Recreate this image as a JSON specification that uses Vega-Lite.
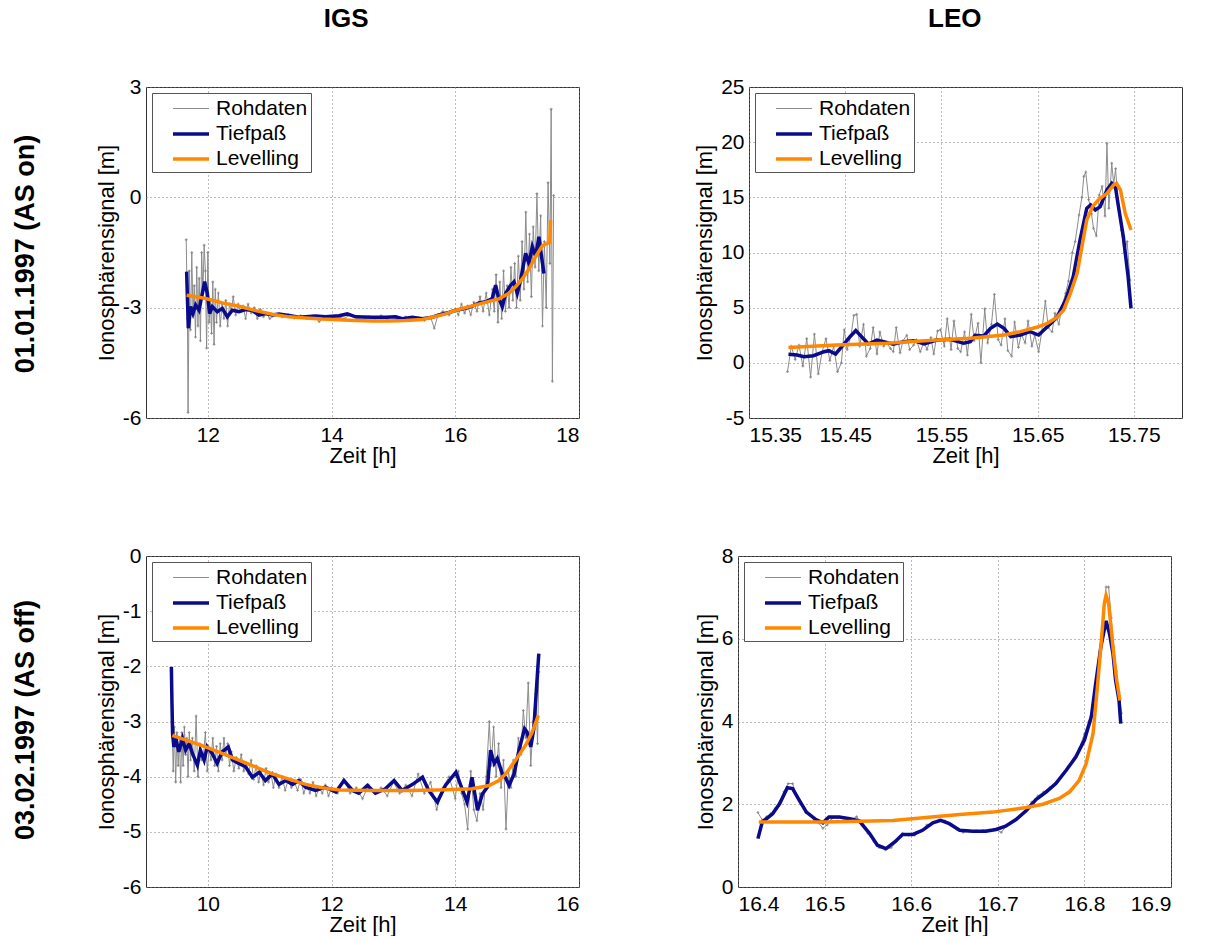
{
"$schema": "https://vega.github.io/schema/vega-lite/v6.json",
"background": "white",
"padding": {"left": 11, "top": 5, "right": 0, "bottom": 0},
"config": {
 "font": "Liberation Sans",
 "view": {"stroke": "#333", "strokeWidth": 1},
 "axis": {"labelFont": "Liberation Sans", "labelFontSize": 21, "labelColor": "#000", "titleFont": "Liberation Sans", "titleFontSize": 22, "titleFontWeight": "normal", "titleColor": "#000", "grid": true, "gridColor": "#777", "gridDash": [1, 3], "gridOpacity": 1, "domain": false, "ticks": false, "labelPadding": 5, "titlePadding": 4},
 "axisX": {"labelPadding": 6, "titlePadding": 0},
 "legend": {"orient": "top-left", "offset": 6, "labelFont": "Liberation Sans", "labelFontSize": 21, "labelColor": "#000", "symbolType": "M-1.5,0H1.5", "symbolSize": 576, "symbolOffset": 22, "strokeColor": "#555", "fillColor": "white", "padding": 3, "rowPadding": 1, "labelOffset": 11},
 "title": {"font": "Liberation Sans", "fontSize": 26, "fontWeight": "bold", "color": "#000"}
},
"datasets": {
 "p1": [
  {"s":"Rohdaten","x":11.65,"y":-1.15},{"s":"Rohdaten","x":11.67,"y":-3.3},{"s":"Rohdaten","x":11.68,"y":-5.85},{"s":"Rohdaten","x":11.70,"y":-2.0},{"s":"Rohdaten","x":11.72,"y":-3.6},{"s":"Rohdaten","x":11.74,"y":-1.5},{"s":"Rohdaten","x":11.76,"y":-3.2},{"s":"Rohdaten","x":11.78,"y":-2.4},{"s":"Rohdaten","x":11.80,"y":-3.8},{"s":"Rohdaten","x":11.82,"y":-1.9},{"s":"Rohdaten","x":11.84,"y":-3.5},{"s":"Rohdaten","x":11.86,"y":-2.2},{"s":"Rohdaten","x":11.88,"y":-3.9},{"s":"Rohdaten","x":11.90,"y":-1.5},{"s":"Rohdaten","x":11.92,"y":-2.6},{"s":"Rohdaten","x":11.94,"y":-1.3},{"s":"Rohdaten","x":11.96,"y":-2.0},{"s":"Rohdaten","x":11.98,"y":-4.1},{"s":"Rohdaten","x":12.00,"y":-1.5},{"s":"Rohdaten","x":12.02,"y":-3.4},{"s":"Rohdaten","x":12.04,"y":-2.8},{"s":"Rohdaten","x":12.06,"y":-3.7},{"s":"Rohdaten","x":12.08,"y":-2.3},{"s":"Rohdaten","x":12.10,"y":-4.0},{"s":"Rohdaten","x":12.12,"y":-2.5},{"s":"Rohdaten","x":12.14,"y":-3.4},{"s":"Rohdaten","x":12.17,"y":-2.6},{"s":"Rohdaten","x":12.20,"y":-3.5},{"s":"Rohdaten","x":12.23,"y":-2.9},{"s":"Rohdaten","x":12.26,"y":-3.3},{"s":"Rohdaten","x":12.29,"y":-2.8},{"s":"Rohdaten","x":12.32,"y":-3.5},{"s":"Rohdaten","x":12.35,"y":-2.9},{"s":"Rohdaten","x":12.38,"y":-3.1},{"s":"Rohdaten","x":12.41,"y":-2.7},{"s":"Rohdaten","x":12.45,"y":-3.2},{"s":"Rohdaten","x":12.49,"y":-2.9},{"s":"Rohdaten","x":12.53,"y":-3.1},{"s":"Rohdaten","x":12.57,"y":-2.95},{"s":"Rohdaten","x":12.61,"y":-3.3},{"s":"Rohdaten","x":12.65,"y":-2.9},{"s":"Rohdaten","x":12.70,"y":-3.15},{"s":"Rohdaten","x":12.75,"y":-3.0},{"s":"Rohdaten","x":12.80,"y":-3.3},{"s":"Rohdaten","x":12.85,"y":-3.05},{"s":"Rohdaten","x":12.90,"y":-3.25},{"s":"Rohdaten","x":12.95,"y":-3.15},{"s":"Rohdaten","x":13.00,"y":-3.3},{"s":"Rohdaten","x":13.1,"y":-3.2},{"s":"Rohdaten","x":13.2,"y":-3.25},{"s":"Rohdaten","x":13.3,"y":-3.2},{"s":"Rohdaten","x":13.4,"y":-3.28},{"s":"Rohdaten","x":13.5,"y":-3.22},{"s":"Rohdaten","x":13.6,"y":-3.3},{"s":"Rohdaten","x":13.7,"y":-3.22},{"s":"Rohdaten","x":13.8,"y":-3.38},{"s":"Rohdaten","x":13.9,"y":-3.24},{"s":"Rohdaten","x":14.0,"y":-3.28},{"s":"Rohdaten","x":14.1,"y":-3.24},{"s":"Rohdaten","x":14.2,"y":-3.3},{"s":"Rohdaten","x":14.3,"y":-3.2},{"s":"Rohdaten","x":14.4,"y":-3.27},{"s":"Rohdaten","x":14.5,"y":-3.33},{"s":"Rohdaten","x":14.6,"y":-3.25},{"s":"Rohdaten","x":14.7,"y":-3.3},{"s":"Rohdaten","x":14.8,"y":-3.22},{"s":"Rohdaten","x":14.9,"y":-3.3},{"s":"Rohdaten","x":15.0,"y":-3.25},{"s":"Rohdaten","x":15.1,"y":-3.33},{"s":"Rohdaten","x":15.2,"y":-3.25},{"s":"Rohdaten","x":15.3,"y":-3.32},{"s":"Rohdaten","x":15.4,"y":-3.28},{"s":"Rohdaten","x":15.5,"y":-3.35},{"s":"Rohdaten","x":15.6,"y":-3.25},{"s":"Rohdaten","x":15.66,"y":-3.56},{"s":"Rohdaten","x":15.72,"y":-3.2},{"s":"Rohdaten","x":15.8,"y":-3.1},{"s":"Rohdaten","x":15.9,"y":-3.2},{"s":"Rohdaten","x":16.0,"y":-3.05},{"s":"Rohdaten","x":16.05,"y":-3.2},{"s":"Rohdaten","x":16.1,"y":-2.9},{"s":"Rohdaten","x":16.15,"y":-3.15},{"s":"Rohdaten","x":16.2,"y":-2.95},{"s":"Rohdaten","x":16.25,"y":-3.2},{"s":"Rohdaten","x":16.3,"y":-2.85},{"s":"Rohdaten","x":16.35,"y":-3.1},{"s":"Rohdaten","x":16.4,"y":-2.7},{"s":"Rohdaten","x":16.45,"y":-3.1},{"s":"Rohdaten","x":16.5,"y":-2.6},{"s":"Rohdaten","x":16.55,"y":-3.2},{"s":"Rohdaten","x":16.6,"y":-2.5},{"s":"Rohdaten","x":16.63,"y":-3.1},{"s":"Rohdaten","x":16.66,"y":-2.1},{"s":"Rohdaten","x":16.69,"y":-3.4},{"s":"Rohdaten","x":16.72,"y":-2.3},{"s":"Rohdaten","x":16.75,"y":-3.3},{"s":"Rohdaten","x":16.78,"y":-2.0},{"s":"Rohdaten","x":16.81,"y":-3.1},{"s":"Rohdaten","x":16.84,"y":-2.4},{"s":"Rohdaten","x":16.87,"y":-3.0},{"s":"Rohdaten","x":16.9,"y":-1.9},{"s":"Rohdaten","x":16.93,"y":-2.8},{"s":"Rohdaten","x":16.96,"y":-1.8},{"s":"Rohdaten","x":16.99,"y":-3.0},{"s":"Rohdaten","x":17.02,"y":-1.6},{"s":"Rohdaten","x":17.05,"y":-2.8},{"s":"Rohdaten","x":17.08,"y":-1.2},{"s":"Rohdaten","x":17.11,"y":-2.5},{"s":"Rohdaten","x":17.14,"y":-0.4},{"s":"Rohdaten","x":17.17,"y":-2.3},{"s":"Rohdaten","x":17.2,"y":-1.0},{"s":"Rohdaten","x":17.23,"y":-2.7},{"s":"Rohdaten","x":17.26,"y":-0.8},{"s":"Rohdaten","x":17.29,"y":-1.9},{"s":"Rohdaten","x":17.32,"y":0.1},{"s":"Rohdaten","x":17.35,"y":-2.0},{"s":"Rohdaten","x":17.38,"y":-0.5},{"s":"Rohdaten","x":17.41,"y":-3.5},{"s":"Rohdaten","x":17.44,"y":-1.2},{"s":"Rohdaten","x":17.47,"y":-3.0},{"s":"Rohdaten","x":17.50,"y":0.4},{"s":"Rohdaten","x":17.53,"y":-1.8},{"s":"Rohdaten","x":17.55,"y":2.4},{"s":"Rohdaten","x":17.57,"y":-5.0},{"s":"Rohdaten","x":17.59,"y":0.05},
  {"s":"Tiefpaß","x":11.657,"y":-2.02},{"s":"Tiefpaß","x":11.684,"y":-3.56},{"s":"Tiefpaß","x":11.722,"y":-2.97},{"s":"Tiefpaß","x":11.760,"y":-3.16},{"s":"Tiefpaß","x":11.803,"y":-2.93},{"s":"Tiefpaß","x":11.857,"y":-3.07},{"s":"Tiefpaß","x":11.911,"y":-2.61},{"s":"Tiefpaß","x":11.948,"y":-2.29},{"s":"Tiefpaß","x":11.991,"y":-2.61},{"s":"Tiefpaß","x":12.029,"y":-3.16},{"s":"Tiefpaß","x":12.072,"y":-2.97},{"s":"Tiefpaß","x":12.153,"y":-3.11},{"s":"Tiefpaß","x":12.234,"y":-3.02},{"s":"Tiefpaß","x":12.315,"y":-3.25},{"s":"Tiefpaß","x":12.395,"y":-3.07},{"s":"Tiefpaß","x":12.503,"y":-3.11},{"s":"Tiefpaß","x":12.611,"y":-3.05},{"s":"Tiefpaß","x":12.719,"y":-3.08},{"s":"Tiefpaß","x":12.826,"y":-3.20},{"s":"Tiefpaß","x":12.934,"y":-3.16},{"s":"Tiefpaß","x":13.042,"y":-3.20},{"s":"Tiefpaß","x":13.150,"y":-3.17},{"s":"Tiefpaß","x":13.311,"y":-3.21},{"s":"Tiefpaß","x":13.473,"y":-3.26},{"s":"Tiefpaß","x":13.581,"y":-3.25},{"s":"Tiefpaß","x":13.742,"y":-3.23},{"s":"Tiefpaß","x":13.904,"y":-3.25},{"s":"Tiefpaß","x":14.120,"y":-3.22},{"s":"Tiefpaß","x":14.254,"y":-3.17},{"s":"Tiefpaß","x":14.389,"y":-3.25},{"s":"Tiefpaß","x":14.658,"y":-3.26},{"s":"Tiefpaß","x":14.874,"y":-3.26},{"s":"Tiefpaß","x":15.036,"y":-3.25},{"s":"Tiefpaß","x":15.143,"y":-3.30},{"s":"Tiefpaß","x":15.305,"y":-3.26},{"s":"Tiefpaß","x":15.467,"y":-3.30},{"s":"Tiefpaß","x":15.628,"y":-3.26},{"s":"Tiefpaß","x":15.736,"y":-3.20},{"s":"Tiefpaß","x":15.898,"y":-3.13},{"s":"Tiefpaß","x":16.005,"y":-3.07},{"s":"Tiefpaß","x":16.167,"y":-3.02},{"s":"Tiefpaß","x":16.275,"y":-2.96},{"s":"Tiefpaß","x":16.383,"y":-2.87},{"s":"Tiefpaß","x":16.490,"y":-2.84},{"s":"Tiefpaß","x":16.598,"y":-2.75},{"s":"Tiefpaß","x":16.652,"y":-2.39},{"s":"Tiefpaß","x":16.695,"y":-2.70},{"s":"Tiefpaß","x":16.760,"y":-2.97},{"s":"Tiefpaß","x":16.814,"y":-2.61},{"s":"Tiefpaß","x":16.894,"y":-2.39},{"s":"Tiefpaß","x":16.948,"y":-2.30},{"s":"Tiefpaß","x":17.002,"y":-2.61},{"s":"Tiefpaß","x":17.056,"y":-2.25},{"s":"Tiefpaß","x":17.137,"y":-1.52},{"s":"Tiefpaß","x":17.191,"y":-1.80},{"s":"Tiefpaß","x":17.245,"y":-1.34},{"s":"Tiefpaß","x":17.299,"y":-1.61},{"s":"Tiefpaß","x":17.352,"y":-1.07},{"s":"Tiefpaß","x":17.406,"y":-1.75},{"s":"Tiefpaß","x":17.433,"y":-2.07},
  {"s":"Levelling","x":11.657,"y":-2.66},{"s":"Levelling","x":11.964,"y":-2.75},{"s":"Levelling","x":12.234,"y":-2.87},{"s":"Levelling","x":12.503,"y":-2.96},{"s":"Levelling","x":12.773,"y":-3.08},{"s":"Levelling","x":13.042,"y":-3.18},{"s":"Levelling","x":13.311,"y":-3.25},{"s":"Levelling","x":13.581,"y":-3.28},{"s":"Levelling","x":13.850,"y":-3.31},{"s":"Levelling","x":14.120,"y":-3.33},{"s":"Levelling","x":14.389,"y":-3.35},{"s":"Levelling","x":14.658,"y":-3.36},{"s":"Levelling","x":14.928,"y":-3.36},{"s":"Levelling","x":15.197,"y":-3.35},{"s":"Levelling","x":15.467,"y":-3.32},{"s":"Levelling","x":15.628,"y":-3.26},{"s":"Levelling","x":15.844,"y":-3.17},{"s":"Levelling","x":16.005,"y":-3.07},{"s":"Levelling","x":16.275,"y":-2.95},{"s":"Levelling","x":16.544,"y":-2.83},{"s":"Levelling","x":16.706,"y":-2.76},{"s":"Levelling","x":16.867,"y":-2.61},{"s":"Levelling","x":16.975,"y":-2.43},{"s":"Levelling","x":17.083,"y":-2.22},{"s":"Levelling","x":17.191,"y":-1.95},{"s":"Levelling","x":17.299,"y":-1.61},{"s":"Levelling","x":17.406,"y":-1.32},{"s":"Levelling","x":17.487,"y":-1.25},{"s":"Levelling","x":17.525,"y":-1.23},{"s":"Levelling","x":17.541,"y":-0.62}
 ],
 "p2": [
  {"s":"Rohdaten","x":15.390,"y":-0.8},{"s":"Rohdaten","x":15.394,"y":1.5},{"s":"Rohdaten","x":15.398,"y":0.3},{"s":"Rohdaten","x":15.402,"y":1.6},{"s":"Rohdaten","x":15.406,"y":-0.3},{"s":"Rohdaten","x":15.410,"y":2.2},{"s":"Rohdaten","x":15.414,"y":-1.3},{"s":"Rohdaten","x":15.418,"y":2.6},{"s":"Rohdaten","x":15.422,"y":-1.0},{"s":"Rohdaten","x":15.426,"y":1.0},{"s":"Rohdaten","x":15.430,"y":2.2},{"s":"Rohdaten","x":15.434,"y":0.2},{"s":"Rohdaten","x":15.438,"y":1.5},{"s":"Rohdaten","x":15.442,"y":-0.8},{"s":"Rohdaten","x":15.446,"y":0.0},{"s":"Rohdaten","x":15.449,"y":3.0},{"s":"Rohdaten","x":15.452,"y":1.2},{"s":"Rohdaten","x":15.456,"y":2.5},{"s":"Rohdaten","x":15.459,"y":4.3},{"s":"Rohdaten","x":15.462,"y":4.4},{"s":"Rohdaten","x":15.465,"y":1.5},{"s":"Rohdaten","x":15.469,"y":3.5},{"s":"Rohdaten","x":15.472,"y":0.6},{"s":"Rohdaten","x":15.476,"y":1.3},{"s":"Rohdaten","x":15.479,"y":3.2},{"s":"Rohdaten","x":15.483,"y":0.8},{"s":"Rohdaten","x":15.486,"y":2.8},{"s":"Rohdaten","x":15.490,"y":1.5},{"s":"Rohdaten","x":15.493,"y":1.8},{"s":"Rohdaten","x":15.497,"y":1.3},{"s":"Rohdaten","x":15.500,"y":1.0},{"s":"Rohdaten","x":15.503,"y":3.2},{"s":"Rohdaten","x":15.507,"y":0.9},{"s":"Rohdaten","x":15.510,"y":2.0},{"s":"Rohdaten","x":15.514,"y":2.5},{"s":"Rohdaten","x":15.517,"y":1.2},{"s":"Rohdaten","x":15.521,"y":1.6},{"s":"Rohdaten","x":15.524,"y":2.1},{"s":"Rohdaten","x":15.528,"y":1.0},{"s":"Rohdaten","x":15.532,"y":1.9},{"s":"Rohdaten","x":15.535,"y":1.2},{"s":"Rohdaten","x":15.539,"y":2.3},{"s":"Rohdaten","x":15.542,"y":0.8},{"s":"Rohdaten","x":15.546,"y":2.9},{"s":"Rohdaten","x":15.549,"y":3.0},{"s":"Rohdaten","x":15.553,"y":1.5},{"s":"Rohdaten","x":15.556,"y":4.0},{"s":"Rohdaten","x":15.560,"y":1.2},{"s":"Rohdaten","x":15.563,"y":3.8},{"s":"Rohdaten","x":15.567,"y":1.3},{"s":"Rohdaten","x":15.570,"y":1.0},{"s":"Rohdaten","x":15.574,"y":2.8},{"s":"Rohdaten","x":15.577,"y":0.7},{"s":"Rohdaten","x":15.581,"y":4.4},{"s":"Rohdaten","x":15.584,"y":2.0},{"s":"Rohdaten","x":15.588,"y":3.6},{"s":"Rohdaten","x":15.591,"y":0.0},{"s":"Rohdaten","x":15.595,"y":4.9},{"s":"Rohdaten","x":15.598,"y":1.8},{"s":"Rohdaten","x":15.602,"y":3.5},{"s":"Rohdaten","x":15.605,"y":6.2},{"s":"Rohdaten","x":15.609,"y":2.1},{"s":"Rohdaten","x":15.612,"y":1.6},{"s":"Rohdaten","x":15.616,"y":4.0},{"s":"Rohdaten","x":15.619,"y":1.1},{"s":"Rohdaten","x":15.623,"y":0.6},{"s":"Rohdaten","x":15.626,"y":3.7},{"s":"Rohdaten","x":15.630,"y":1.4},{"s":"Rohdaten","x":15.633,"y":2.6},{"s":"Rohdaten","x":15.637,"y":1.8},{"s":"Rohdaten","x":15.640,"y":3.8},{"s":"Rohdaten","x":15.644,"y":1.5},{"s":"Rohdaten","x":15.647,"y":2.5},{"s":"Rohdaten","x":15.651,"y":1.0},{"s":"Rohdaten","x":15.654,"y":2.7},{"s":"Rohdaten","x":15.658,"y":5.6},{"s":"Rohdaten","x":15.661,"y":3.2},{"s":"Rohdaten","x":15.665,"y":2.8},{"s":"Rohdaten","x":15.668,"y":4.5},{"s":"Rohdaten","x":15.672,"y":3.5},{"s":"Rohdaten","x":15.675,"y":5.0},{"s":"Rohdaten","x":15.679,"y":6.3},{"s":"Rohdaten","x":15.682,"y":7.4},{"s":"Rohdaten","x":15.686,"y":10.0},{"s":"Rohdaten","x":15.689,"y":11.0},{"s":"Rohdaten","x":15.693,"y":13.4},{"s":"Rohdaten","x":15.696,"y":15.0},{"s":"Rohdaten","x":15.698,"y":16.9},{"s":"Rohdaten","x":15.700,"y":17.3},{"s":"Rohdaten","x":15.703,"y":14.8},{"s":"Rohdaten","x":15.706,"y":13.5},{"s":"Rohdaten","x":15.708,"y":12.2},{"s":"Rohdaten","x":15.711,"y":11.5},{"s":"Rohdaten","x":15.714,"y":15.2},{"s":"Rohdaten","x":15.717,"y":16.0},{"s":"Rohdaten","x":15.720,"y":13.3},{"s":"Rohdaten","x":15.722,"y":19.9},{"s":"Rohdaten","x":15.724,"y":14.0},{"s":"Rohdaten","x":15.727,"y":18.1},{"s":"Rohdaten","x":15.729,"y":16.2},{"s":"Rohdaten","x":15.731,"y":17.6},{"s":"Rohdaten","x":15.734,"y":13.9},{"s":"Rohdaten","x":15.737,"y":12.0},{"s":"Rohdaten","x":15.740,"y":10.0},{"s":"Rohdaten","x":15.743,"y":11.0},{"s":"Rohdaten","x":15.746,"y":7.5},
  {"s":"Tiefpaß","x":15.391,"y":0.77},{"s":"Tiefpaß","x":15.400,"y":0.71},{"s":"Tiefpaß","x":15.407,"y":0.56},{"s":"Tiefpaß","x":15.417,"y":0.65},{"s":"Tiefpaß","x":15.428,"y":1.01},{"s":"Tiefpaß","x":15.433,"y":1.10},{"s":"Tiefpaß","x":15.440,"y":0.80},{"s":"Tiefpaß","x":15.448,"y":1.62},{"s":"Tiefpaß","x":15.455,"y":2.37},{"s":"Tiefpaß","x":15.461,"y":2.92},{"s":"Tiefpaß","x":15.467,"y":2.37},{"s":"Tiefpaß","x":15.474,"y":1.71},{"s":"Tiefpaß","x":15.483,"y":2.07},{"s":"Tiefpaß","x":15.490,"y":1.92},{"s":"Tiefpaß","x":15.500,"y":1.68},{"s":"Tiefpaß","x":15.511,"y":1.92},{"s":"Tiefpaß","x":15.521,"y":2.01},{"s":"Tiefpaß","x":15.532,"y":1.71},{"s":"Tiefpaß","x":15.545,"y":2.07},{"s":"Tiefpaß","x":15.559,"y":2.13},{"s":"Tiefpaß","x":15.573,"y":1.77},{"s":"Tiefpaß","x":15.580,"y":1.92},{"s":"Tiefpaß","x":15.585,"y":2.49},{"s":"Tiefpaß","x":15.594,"y":2.43},{"s":"Tiefpaß","x":15.601,"y":3.13},{"s":"Tiefpaß","x":15.608,"y":3.52},{"s":"Tiefpaß","x":15.615,"y":3.13},{"s":"Tiefpaß","x":15.622,"y":2.37},{"s":"Tiefpaß","x":15.632,"y":2.52},{"s":"Tiefpaß","x":15.642,"y":2.83},{"s":"Tiefpaß","x":15.651,"y":2.52},{"s":"Tiefpaß","x":15.660,"y":3.28},{"s":"Tiefpaß","x":15.670,"y":4.12},{"s":"Tiefpaß","x":15.679,"y":5.70},{"s":"Tiefpaß","x":15.687,"y":7.81},{"s":"Tiefpaß","x":15.694,"y":11.13},{"s":"Tiefpaß","x":15.701,"y":14.00},{"s":"Tiefpaß","x":15.705,"y":14.31},{"s":"Tiefpaß","x":15.710,"y":13.85},{"s":"Tiefpaß","x":15.715,"y":14.15},{"s":"Tiefpaß","x":15.722,"y":15.67},{"s":"Tiefpaß","x":15.727,"y":16.27},{"s":"Tiefpaß","x":15.731,"y":15.82},{"s":"Tiefpaß","x":15.734,"y":14.15},{"s":"Tiefpaß","x":15.739,"y":11.44},{"s":"Tiefpaß","x":15.744,"y":7.81},{"s":"Tiefpaß","x":15.747,"y":4.94},
  {"s":"Levelling","x":15.391,"y":1.38},{"s":"Levelling","x":15.441,"y":1.62},{"s":"Levelling","x":15.493,"y":1.77},{"s":"Levelling","x":15.545,"y":2.07},{"s":"Levelling","x":15.580,"y":2.22},{"s":"Levelling","x":15.615,"y":2.52},{"s":"Levelling","x":15.632,"y":2.83},{"s":"Levelling","x":15.649,"y":3.22},{"s":"Levelling","x":15.660,"y":3.58},{"s":"Levelling","x":15.670,"y":4.12},{"s":"Levelling","x":15.677,"y":4.79},{"s":"Levelling","x":15.684,"y":6.30},{"s":"Levelling","x":15.691,"y":8.11},{"s":"Levelling","x":15.696,"y":10.53},{"s":"Levelling","x":15.701,"y":12.95},{"s":"Levelling","x":15.707,"y":14.15},{"s":"Levelling","x":15.713,"y":14.76},{"s":"Levelling","x":15.722,"y":15.36},{"s":"Levelling","x":15.729,"y":16.12},{"s":"Levelling","x":15.732,"y":16.27},{"s":"Levelling","x":15.736,"y":15.67},{"s":"Levelling","x":15.741,"y":13.55},{"s":"Levelling","x":15.747,"y":12.04}
 ],
 "p3": [
  {"s":"Rohdaten","x":9.42,"y":-3.0},{"s":"Rohdaten","x":9.44,"y":-3.9},{"s":"Rohdaten","x":9.46,"y":-3.1},{"s":"Rohdaten","x":9.48,"y":-4.1},{"s":"Rohdaten","x":9.50,"y":-3.2},{"s":"Rohdaten","x":9.52,"y":-3.8},{"s":"Rohdaten","x":9.54,"y":-3.3},{"s":"Rohdaten","x":9.56,"y":-4.1},{"s":"Rohdaten","x":9.58,"y":-3.2},{"s":"Rohdaten","x":9.60,"y":-3.8},{"s":"Rohdaten","x":9.62,"y":-3.1},{"s":"Rohdaten","x":9.64,"y":-3.6},{"s":"Rohdaten","x":9.66,"y":-3.3},{"s":"Rohdaten","x":9.68,"y":-4.0},{"s":"Rohdaten","x":9.70,"y":-3.2},{"s":"Rohdaten","x":9.72,"y":-3.7},{"s":"Rohdaten","x":9.75,"y":-3.3},{"s":"Rohdaten","x":9.78,"y":-3.9},{"s":"Rohdaten","x":9.81,"y":-2.9},{"s":"Rohdaten","x":9.84,"y":-4.0},{"s":"Rohdaten","x":9.87,"y":-3.4},{"s":"Rohdaten","x":9.90,"y":-3.7},{"s":"Rohdaten","x":9.93,"y":-3.6},{"s":"Rohdaten","x":9.96,"y":-3.2},{"s":"Rohdaten","x":9.99,"y":-3.9},{"s":"Rohdaten","x":10.02,"y":-3.5},{"s":"Rohdaten","x":10.05,"y":-3.7},{"s":"Rohdaten","x":10.08,"y":-3.3},{"s":"Rohdaten","x":10.11,"y":-3.8},{"s":"Rohdaten","x":10.14,"y":-3.45},{"s":"Rohdaten","x":10.17,"y":-3.9},{"s":"Rohdaten","x":10.20,"y":-3.4},{"s":"Rohdaten","x":10.23,"y":-3.7},{"s":"Rohdaten","x":10.26,"y":-3.3},{"s":"Rohdaten","x":10.29,"y":-3.6},{"s":"Rohdaten","x":10.32,"y":-3.4},{"s":"Rohdaten","x":10.35,"y":-3.8},{"s":"Rohdaten","x":10.38,"y":-3.55},{"s":"Rohdaten","x":10.42,"y":-3.9},{"s":"Rohdaten","x":10.46,"y":-3.65},{"s":"Rohdaten","x":10.50,"y":-3.85},{"s":"Rohdaten","x":10.54,"y":-3.6},{"s":"Rohdaten","x":10.58,"y":-3.9},{"s":"Rohdaten","x":10.62,"y":-3.75},{"s":"Rohdaten","x":10.66,"y":-3.95},{"s":"Rohdaten","x":10.70,"y":-3.7},{"s":"Rohdaten","x":10.74,"y":-4.05},{"s":"Rohdaten","x":10.78,"y":-3.8},{"s":"Rohdaten","x":10.82,"y":-4.1},{"s":"Rohdaten","x":10.86,"y":-3.9},{"s":"Rohdaten","x":10.90,"y":-4.15},{"s":"Rohdaten","x":10.94,"y":-3.85},{"s":"Rohdaten","x":10.98,"y":-4.1},{"s":"Rohdaten","x":11.02,"y":-3.95},{"s":"Rohdaten","x":11.06,"y":-4.2},{"s":"Rohdaten","x":11.10,"y":-3.95},{"s":"Rohdaten","x":11.15,"y":-4.2},{"s":"Rohdaten","x":11.20,"y":-4.0},{"s":"Rohdaten","x":11.25,"y":-4.25},{"s":"Rohdaten","x":11.30,"y":-4.05},{"s":"Rohdaten","x":11.35,"y":-4.2},{"s":"Rohdaten","x":11.40,"y":-4.1},{"s":"Rohdaten","x":11.45,"y":-4.25},{"s":"Rohdaten","x":11.50,"y":-4.05},{"s":"Rohdaten","x":11.55,"y":-4.3},{"s":"Rohdaten","x":11.60,"y":-4.15},{"s":"Rohdaten","x":11.65,"y":-4.3},{"s":"Rohdaten","x":11.70,"y":-4.1},{"s":"Rohdaten","x":11.75,"y":-4.35},{"s":"Rohdaten","x":11.80,"y":-4.2},{"s":"Rohdaten","x":11.85,"y":-4.3},{"s":"Rohdaten","x":11.90,"y":-4.15},{"s":"Rohdaten","x":11.95,"y":-4.35},{"s":"Rohdaten","x":12.00,"y":-4.2},{"s":"Rohdaten","x":12.1,"y":-4.3},{"s":"Rohdaten","x":12.2,"y":-4.05},{"s":"Rohdaten","x":12.3,"y":-4.3},{"s":"Rohdaten","x":12.4,"y":-4.2},{"s":"Rohdaten","x":12.5,"y":-4.4},{"s":"Rohdaten","x":12.6,"y":-4.15},{"s":"Rohdaten","x":12.7,"y":-4.3},{"s":"Rohdaten","x":12.8,"y":-4.2},{"s":"Rohdaten","x":12.9,"y":-4.35},{"s":"Rohdaten","x":13.0,"y":-4.1},{"s":"Rohdaten","x":13.1,"y":-4.3},{"s":"Rohdaten","x":13.2,"y":-4.15},{"s":"Rohdaten","x":13.3,"y":-4.35},{"s":"Rohdaten","x":13.4,"y":-3.95},{"s":"Rohdaten","x":13.5,"y":-4.3},{"s":"Rohdaten","x":13.6,"y":-4.1},{"s":"Rohdaten","x":13.7,"y":-4.6},{"s":"Rohdaten","x":13.8,"y":-4.2},{"s":"Rohdaten","x":13.9,"y":-4.0},{"s":"Rohdaten","x":14.0,"y":-4.4},{"s":"Rohdaten","x":14.05,"y":-3.9},{"s":"Rohdaten","x":14.1,"y":-4.3},{"s":"Rohdaten","x":14.15,"y":-4.5},{"s":"Rohdaten","x":14.2,"y":-4.95},{"s":"Rohdaten","x":14.25,"y":-3.9},{"s":"Rohdaten","x":14.3,"y":-4.6},{"s":"Rohdaten","x":14.35,"y":-4.8},{"s":"Rohdaten","x":14.4,"y":-4.3},{"s":"Rohdaten","x":14.45,"y":-4.6},{"s":"Rohdaten","x":14.5,"y":-4.0},{"s":"Rohdaten","x":14.55,"y":-3.0},{"s":"Rohdaten","x":14.58,"y":-3.8},{"s":"Rohdaten","x":14.62,"y":-3.1},{"s":"Rohdaten","x":14.66,"y":-4.0},{"s":"Rohdaten","x":14.70,"y":-3.4},{"s":"Rohdaten","x":14.74,"y":-4.2},{"s":"Rohdaten","x":14.78,"y":-3.7},{"s":"Rohdaten","x":14.82,"y":-4.95},{"s":"Rohdaten","x":14.86,"y":-3.9},{"s":"Rohdaten","x":14.90,"y":-4.2},{"s":"Rohdaten","x":14.94,"y":-3.7},{"s":"Rohdaten","x":14.98,"y":-4.0},{"s":"Rohdaten","x":15.02,"y":-3.3},{"s":"Rohdaten","x":15.06,"y":-3.6},{"s":"Rohdaten","x":15.10,"y":-2.8},{"s":"Rohdaten","x":15.14,"y":-3.3},{"s":"Rohdaten","x":15.18,"y":-2.3},{"s":"Rohdaten","x":15.22,"y":-3.8},{"s":"Rohdaten","x":15.26,"y":-3.0},{"s":"Rohdaten","x":15.30,"y":-2.5},{"s":"Rohdaten","x":15.33,"y":-3.4},{"s":"Rohdaten","x":15.35,"y":-2.1},
  {"s":"Tiefpaß","x":9.41,"y":-2.01},{"s":"Tiefpaß","x":9.42,"y":-2.68},{"s":"Tiefpaß","x":9.43,"y":-3.22},{"s":"Tiefpaß","x":9.45,"y":-3.46},{"s":"Tiefpaß","x":9.49,"y":-3.34},{"s":"Tiefpaß","x":9.53,"y":-3.55},{"s":"Tiefpaß","x":9.59,"y":-3.31},{"s":"Tiefpaß","x":9.64,"y":-3.52},{"s":"Tiefpaß","x":9.70,"y":-3.40},{"s":"Tiefpaß","x":9.75,"y":-3.58},{"s":"Tiefpaß","x":9.83,"y":-3.79},{"s":"Tiefpaß","x":9.88,"y":-3.52},{"s":"Tiefpaß","x":9.94,"y":-3.70},{"s":"Tiefpaß","x":9.99,"y":-3.46},{"s":"Tiefpaß","x":10.07,"y":-3.58},{"s":"Tiefpaß","x":10.15,"y":-3.76},{"s":"Tiefpaß","x":10.23,"y":-3.55},{"s":"Tiefpaß","x":10.33,"y":-3.46},{"s":"Tiefpaß","x":10.40,"y":-3.70},{"s":"Tiefpaß","x":10.50,"y":-3.76},{"s":"Tiefpaß","x":10.61,"y":-3.82},{"s":"Tiefpaß","x":10.72,"y":-4.01},{"s":"Tiefpaß","x":10.83,"y":-3.92},{"s":"Tiefpaß","x":10.93,"y":-4.07},{"s":"Tiefpaß","x":11.04,"y":-3.95},{"s":"Tiefpaß","x":11.15,"y":-4.14},{"s":"Tiefpaß","x":11.26,"y":-4.07},{"s":"Tiefpaß","x":11.37,"y":-4.14},{"s":"Tiefpaß","x":11.47,"y":-4.07},{"s":"Tiefpaß","x":11.58,"y":-4.19},{"s":"Tiefpaß","x":11.74,"y":-4.25},{"s":"Tiefpaß","x":11.90,"y":-4.19},{"s":"Tiefpaß","x":12.07,"y":-4.28},{"s":"Tiefpaß","x":12.20,"y":-4.07},{"s":"Tiefpaß","x":12.34,"y":-4.25},{"s":"Tiefpaß","x":12.44,"y":-4.30},{"s":"Tiefpaß","x":12.58,"y":-4.16},{"s":"Tiefpaß","x":12.71,"y":-4.30},{"s":"Tiefpaß","x":12.87,"y":-4.22},{"s":"Tiefpaß","x":13.01,"y":-4.07},{"s":"Tiefpaß","x":13.14,"y":-4.25},{"s":"Tiefpaß","x":13.31,"y":-4.14},{"s":"Tiefpaß","x":13.47,"y":-4.01},{"s":"Tiefpaß","x":13.57,"y":-4.25},{"s":"Tiefpaß","x":13.71,"y":-4.46},{"s":"Tiefpaß","x":13.84,"y":-4.16},{"s":"Tiefpaß","x":14.01,"y":-3.92},{"s":"Tiefpaß","x":14.14,"y":-4.31},{"s":"Tiefpaß","x":14.19,"y":-4.46},{"s":"Tiefpaß","x":14.27,"y":-4.01},{"s":"Tiefpaß","x":14.36,"y":-4.61},{"s":"Tiefpaß","x":14.44,"y":-4.31},{"s":"Tiefpaß","x":14.52,"y":-4.19},{"s":"Tiefpaß","x":14.57,"y":-3.52},{"s":"Tiefpaß","x":14.63,"y":-3.76},{"s":"Tiefpaß","x":14.68,"y":-3.67},{"s":"Tiefpaß","x":14.76,"y":-3.95},{"s":"Tiefpaß","x":14.81,"y":-4.01},{"s":"Tiefpaß","x":14.87,"y":-4.16},{"s":"Tiefpaß","x":14.95,"y":-3.95},{"s":"Tiefpaß","x":15.03,"y":-3.52},{"s":"Tiefpaß","x":15.12,"y":-3.13},{"s":"Tiefpaß","x":15.16,"y":-3.19},{"s":"Tiefpaß","x":15.22,"y":-3.46},{"s":"Tiefpaß","x":15.27,"y":-3.13},{"s":"Tiefpaß","x":15.31,"y":-2.44},{"s":"Tiefpaß","x":15.35,"y":-1.77},
  {"s":"Levelling","x":9.426,"y":-3.25},{"s":"Levelling","x":9.964,"y":-3.46},{"s":"Levelling","x":10.503,"y":-3.70},{"s":"Levelling","x":11.042,"y":-3.95},{"s":"Levelling","x":11.581,"y":-4.14},{"s":"Levelling","x":11.850,"y":-4.20},{"s":"Levelling","x":12.120,"y":-4.24},{"s":"Levelling","x":12.658,"y":-4.25},{"s":"Levelling","x":13.197,"y":-4.25},{"s":"Levelling","x":13.736,"y":-4.24},{"s":"Levelling","x":14.275,"y":-4.22},{"s":"Levelling","x":14.544,"y":-4.16},{"s":"Levelling","x":14.706,"y":-4.07},{"s":"Levelling","x":14.814,"y":-3.95},{"s":"Levelling","x":14.975,"y":-3.70},{"s":"Levelling","x":15.137,"y":-3.43},{"s":"Levelling","x":15.245,"y":-3.19},{"s":"Levelling","x":15.342,"y":-2.89}
 ],
 "p4": [
  {"s":"Rohdaten","x":16.423,"y":1.80},{"s":"Rohdaten","x":16.428,"y":1.62},{"s":"Rohdaten","x":16.433,"y":1.70},{"s":"Rohdaten","x":16.438,"y":1.78},{"s":"Rohdaten","x":16.443,"y":1.90},{"s":"Rohdaten","x":16.448,"y":2.05},{"s":"Rohdaten","x":16.453,"y":2.30},{"s":"Rohdaten","x":16.458,"y":2.50},{"s":"Rohdaten","x":16.463,"y":2.50},{"s":"Rohdaten","x":16.468,"y":2.20},{"s":"Rohdaten","x":16.473,"y":2.00},{"s":"Rohdaten","x":16.478,"y":1.80},{"s":"Rohdaten","x":16.483,"y":1.75},{"s":"Rohdaten","x":16.488,"y":1.60},{"s":"Rohdaten","x":16.493,"y":1.55},{"s":"Rohdaten","x":16.498,"y":1.42},{"s":"Rohdaten","x":16.503,"y":1.50},{"s":"Rohdaten","x":16.508,"y":1.65},{"s":"Rohdaten","x":16.515,"y":1.67},{"s":"Rohdaten","x":16.522,"y":1.66},{"s":"Rohdaten","x":16.530,"y":1.62},{"s":"Rohdaten","x":16.537,"y":1.70},{"s":"Rohdaten","x":16.544,"y":1.50},{"s":"Rohdaten","x":16.550,"y":1.30},{"s":"Rohdaten","x":16.557,"y":1.10},{"s":"Rohdaten","x":16.563,"y":0.95},{"s":"Rohdaten","x":16.570,"y":0.90},{"s":"Rohdaten","x":16.577,"y":0.95},{"s":"Rohdaten","x":16.583,"y":1.10},{"s":"Rohdaten","x":16.590,"y":1.30},{"s":"Rohdaten","x":16.597,"y":1.25},{"s":"Rohdaten","x":16.604,"y":1.25},{"s":"Rohdaten","x":16.611,"y":1.35},{"s":"Rohdaten","x":16.618,"y":1.50},{"s":"Rohdaten","x":16.625,"y":1.55},{"s":"Rohdaten","x":16.632,"y":1.62},{"s":"Rohdaten","x":16.639,"y":1.60},{"s":"Rohdaten","x":16.646,"y":1.50},{"s":"Rohdaten","x":16.653,"y":1.40},{"s":"Rohdaten","x":16.660,"y":1.32},{"s":"Rohdaten","x":16.667,"y":1.35},{"s":"Rohdaten","x":16.675,"y":1.36},{"s":"Rohdaten","x":16.683,"y":1.37},{"s":"Rohdaten","x":16.690,"y":1.38},{"s":"Rohdaten","x":16.697,"y":1.40},{"s":"Rohdaten","x":16.704,"y":1.32},{"s":"Rohdaten","x":16.711,"y":1.50},{"s":"Rohdaten","x":16.718,"y":1.58},{"s":"Rohdaten","x":16.725,"y":1.70},{"s":"Rohdaten","x":16.732,"y":1.85},{"s":"Rohdaten","x":16.739,"y":2.05},{"s":"Rohdaten","x":16.746,"y":2.20},{"s":"Rohdaten","x":16.753,"y":2.30},{"s":"Rohdaten","x":16.760,"y":2.40},{"s":"Rohdaten","x":16.767,"y":2.52},{"s":"Rohdaten","x":16.774,"y":2.70},{"s":"Rohdaten","x":16.781,"y":2.90},{"s":"Rohdaten","x":16.788,"y":3.10},{"s":"Rohdaten","x":16.794,"y":3.35},{"s":"Rohdaten","x":16.800,"y":3.70},{"s":"Rohdaten","x":16.805,"y":4.00},{"s":"Rohdaten","x":16.810,"y":4.40},{"s":"Rohdaten","x":16.814,"y":5.00},{"s":"Rohdaten","x":16.818,"y":5.70},{"s":"Rohdaten","x":16.822,"y":6.50},{"s":"Rohdaten","x":16.825,"y":7.25},{"s":"Rohdaten","x":16.828,"y":7.25},{"s":"Rohdaten","x":16.831,"y":6.50},{"s":"Rohdaten","x":16.834,"y":5.80},{"s":"Rohdaten","x":16.837,"y":5.20},{"s":"Rohdaten","x":16.840,"y":4.70},{"s":"Rohdaten","x":16.843,"y":4.20},
  {"s":"Tiefpaß","x":16.423,"y":1.17},{"s":"Tiefpaß","x":16.428,"y":1.57},{"s":"Tiefpaß","x":16.440,"y":1.77},{"s":"Tiefpaß","x":16.448,"y":2.01},{"s":"Tiefpaß","x":16.457,"y":2.40},{"s":"Tiefpaß","x":16.463,"y":2.38},{"s":"Tiefpaß","x":16.471,"y":2.09},{"s":"Tiefpaß","x":16.479,"y":1.81},{"s":"Tiefpaß","x":16.490,"y":1.63},{"s":"Tiefpaß","x":16.498,"y":1.55},{"s":"Tiefpaß","x":16.505,"y":1.69},{"s":"Tiefpaß","x":16.517,"y":1.69},{"s":"Tiefpaß","x":16.529,"y":1.65},{"s":"Tiefpaß","x":16.540,"y":1.60},{"s":"Tiefpaß","x":16.552,"y":1.29},{"s":"Tiefpaß","x":16.561,"y":1.01},{"s":"Tiefpaß","x":16.571,"y":0.93},{"s":"Tiefpaß","x":16.581,"y":1.09},{"s":"Tiefpaß","x":16.590,"y":1.27},{"s":"Tiefpaß","x":16.602,"y":1.27},{"s":"Tiefpaß","x":16.613,"y":1.37},{"s":"Tiefpaß","x":16.625,"y":1.55},{"s":"Tiefpaß","x":16.634,"y":1.61},{"s":"Tiefpaß","x":16.644,"y":1.53},{"s":"Tiefpaß","x":16.656,"y":1.37},{"s":"Tiefpaß","x":16.671,"y":1.35},{"s":"Tiefpaß","x":16.686,"y":1.35},{"s":"Tiefpaß","x":16.698,"y":1.39},{"s":"Tiefpaß","x":16.709,"y":1.47},{"s":"Tiefpaß","x":16.721,"y":1.63},{"s":"Tiefpaß","x":16.733,"y":1.85},{"s":"Tiefpaß","x":16.744,"y":2.11},{"s":"Tiefpaß","x":16.756,"y":2.30},{"s":"Tiefpaß","x":16.767,"y":2.50},{"s":"Tiefpaß","x":16.779,"y":2.82},{"s":"Tiefpaß","x":16.790,"y":3.14},{"s":"Tiefpaß","x":16.800,"y":3.55},{"s":"Tiefpaß","x":16.808,"y":4.11},{"s":"Tiefpaß","x":16.813,"y":4.91},{"s":"Tiefpaß","x":16.819,"y":5.80},{"s":"Tiefpaß","x":16.825,"y":6.43},{"s":"Tiefpaß","x":16.829,"y":6.12},{"s":"Tiefpaß","x":16.833,"y":5.64},{"s":"Tiefpaß","x":16.836,"y":5.00},{"s":"Tiefpaß","x":16.840,"y":4.51},{"s":"Tiefpaß","x":16.842,"y":3.95},
  {"s":"Levelling","x":16.424,"y":1.57},{"s":"Levelling","x":16.502,"y":1.57},{"s":"Levelling","x":16.579,"y":1.61},{"s":"Levelling","x":16.617,"y":1.68},{"s":"Levelling","x":16.656,"y":1.75},{"s":"Levelling","x":16.694,"y":1.81},{"s":"Levelling","x":16.733,"y":1.92},{"s":"Levelling","x":16.752,"y":2.00},{"s":"Levelling","x":16.771,"y":2.14},{"s":"Levelling","x":16.783,"y":2.30},{"s":"Levelling","x":16.794,"y":2.58},{"s":"Levelling","x":16.802,"y":2.98},{"s":"Levelling","x":16.810,"y":3.71},{"s":"Levelling","x":16.815,"y":4.83},{"s":"Levelling","x":16.819,"y":5.80},{"s":"Levelling","x":16.823,"y":6.85},{"s":"Levelling","x":16.825,"y":7.05},{"s":"Levelling","x":16.828,"y":6.85},{"s":"Levelling","x":16.833,"y":5.80},{"s":"Levelling","x":16.837,"y":5.04},{"s":"Levelling","x":16.841,"y":4.51}
 ]
},
"resolve": {"scale": {"color": "independent", "strokeWidth": "independent"}, "legend": {"color": "independent", "strokeWidth": "independent"}},
"spacing": 77,
"vconcat": [
 {
  "title": {"text": "01.01.1997 (AS on)", "orient": "left", "anchor": "middle", "offset": 55, "fontSize": 27, "dx": -18},
  "spacing": 113,
  "resolve": {"scale": {"color": "independent", "strokeWidth": "independent"}, "legend": {"color": "independent", "strokeWidth": "independent"}},
  "hconcat": [
   {
    "width": 433, "height": 331,
    "title": {"text": "IGS", "frame": "bounds", "offset": 44, "dx": 9},
    "data": {"name": "p1"},
    "encoding": {
     "x": {"field": "x", "type": "quantitative", "scale": {"domain": [11, 18], "nice": false, "zero": false}, "axis": {"values": [12, 14, 16, 18], "title": "Zeit [h]"}},
     "y": {"field": "y", "type": "quantitative", "scale": {"domain": [-6, 3], "nice": false, "zero": false}, "axis": {"values": [-6, -3, 0, 3], "title": "Ionosphärensignal [m]", "labelExpr": "'' + datum.value"}},
     "color": {"field": "s", "type": "nominal", "scale": {"domain": ["Rohdaten", "Tiefpaß", "Levelling"], "range": ["#8c8c8c", "#0a0a8c", "#ff8800"]}, "legend": {"title": null, "labelExpr": "datum.label + '\u00a0\u00a0'"}},
     "strokeWidth": {"field": "s", "type": "ordinal", "scale": {"type": "ordinal", "domain": ["Rohdaten", "Tiefpaß", "Levelling"], "range": [1, 3.5, 3.5]}, "legend": {"title": null, "labelExpr": "datum.label + '\u00a0\u00a0'"}}
    },
    "layer": [
     {"transform": [{"filter": "datum.s === 'Rohdaten'"}], "mark": {"type": "line"}},
     {"transform": [{"filter": "datum.s === 'Rohdaten'"}], "mark": {"type": "point", "shape": "cross", "size": 8, "filled": true}, "encoding": {"color": {"value": "#777"}, "strokeWidth": {"value": 0}}},
     {"transform": [{"filter": "datum.s === 'Tiefpaß'"}], "mark": {"type": "line"}},
     {"transform": [{"filter": "datum.s === 'Levelling'"}], "mark": {"type": "line"}}
    ]
   },
   {
    "width": 433, "height": 331,
    "title": {"text": "LEO", "frame": "bounds", "offset": 44, "dx": 17},
    "data": {"name": "p2"},
    "encoding": {
     "x": {"field": "x", "type": "quantitative", "scale": {"domain": [15.35, 15.8], "nice": false, "zero": false}, "axis": {"values": [15.35, 15.45, 15.55, 15.65, 15.75], "format": ".2f", "title": "Zeit [h]"}},
     "y": {"field": "y", "type": "quantitative", "scale": {"domain": [-5, 25], "nice": false, "zero": false}, "axis": {"values": [-5, 0, 5, 10, 15, 20, 25], "title": "Ionosphärensignal [m]", "labelExpr": "'' + datum.value"}},
     "color": {"field": "s", "type": "nominal", "scale": {"domain": ["Rohdaten", "Tiefpaß", "Levelling"], "range": ["#8c8c8c", "#0a0a8c", "#ff8800"]}, "legend": {"title": null, "labelExpr": "datum.label + '\u00a0\u00a0'"}},
     "strokeWidth": {"field": "s", "type": "ordinal", "scale": {"type": "ordinal", "domain": ["Rohdaten", "Tiefpaß", "Levelling"], "range": [1, 3.5, 3.5]}, "legend": {"title": null, "labelExpr": "datum.label + '\u00a0\u00a0'"}}
    },
    "layer": [
     {"transform": [{"filter": "datum.s === 'Rohdaten'"}], "mark": {"type": "line"}},
     {"transform": [{"filter": "datum.s === 'Rohdaten'"}], "mark": {"type": "point", "shape": "cross", "size": 8, "filled": true}, "encoding": {"color": {"value": "#777"}, "strokeWidth": {"value": 0}}},
     {"transform": [{"filter": "datum.s === 'Tiefpaß'"}], "mark": {"type": "line"}},
     {"transform": [{"filter": "datum.s === 'Levelling'"}], "mark": {"type": "line"}}
    ]
   }
  ]
 },
 {
  "title": {"text": "03.02.1997 (AS off)", "orient": "left", "anchor": "middle", "offset": 55, "fontSize": 27, "dx": 20},
  "spacing": 113,
  "resolve": {"scale": {"color": "independent", "strokeWidth": "independent"}, "legend": {"color": "independent", "strokeWidth": "independent"}},
  "hconcat": [
   {
    "width": 433, "height": 331,
    "data": {"name": "p3"},
    "encoding": {
     "x": {"field": "x", "type": "quantitative", "scale": {"domain": [9, 16], "nice": false, "zero": false}, "axis": {"values": [10, 12, 14, 16], "title": "Zeit [h]"}},
     "y": {"field": "y", "type": "quantitative", "scale": {"domain": [-6, 0], "nice": false, "zero": false}, "axis": {"values": [-6, -5, -4, -3, -2, -1, 0], "title": "Ionosphärensignal [m]", "labelExpr": "'' + datum.value"}},
     "color": {"field": "s", "type": "nominal", "scale": {"domain": ["Rohdaten", "Tiefpaß", "Levelling"], "range": ["#8c8c8c", "#0a0a8c", "#ff8800"]}, "legend": {"title": null, "labelExpr": "datum.label + '\u00a0\u00a0'"}},
     "strokeWidth": {"field": "s", "type": "ordinal", "scale": {"type": "ordinal", "domain": ["Rohdaten", "Tiefpaß", "Levelling"], "range": [1, 3.5, 3.5]}, "legend": {"title": null, "labelExpr": "datum.label + '\u00a0\u00a0'"}}
    },
    "layer": [
     {"transform": [{"filter": "datum.s === 'Rohdaten'"}], "mark": {"type": "line"}},
     {"transform": [{"filter": "datum.s === 'Rohdaten'"}], "mark": {"type": "point", "shape": "cross", "size": 8, "filled": true}, "encoding": {"color": {"value": "#777"}, "strokeWidth": {"value": 0}}},
     {"transform": [{"filter": "datum.s === 'Tiefpaß'"}], "mark": {"type": "line"}},
     {"transform": [{"filter": "datum.s === 'Levelling'"}], "mark": {"type": "line"}}
    ]
   },
   {
    "width": 433, "height": 331,
    "data": {"name": "p4"},
    "encoding": {
     "x": {"field": "x", "type": "quantitative", "scale": {"domain": [16.4, 16.9], "nice": false, "zero": false}, "axis": {"values": [16.4, 16.5, 16.6, 16.7, 16.8, 16.9], "format": ".1f", "title": "Zeit [h]"}},
     "y": {"field": "y", "type": "quantitative", "scale": {"domain": [0, 8], "nice": false, "zero": false}, "axis": {"values": [0, 2, 4, 6, 8], "title": "Ionosphärensignal [m]", "labelExpr": "'' + datum.value"}},
     "color": {"field": "s", "type": "nominal", "scale": {"domain": ["Rohdaten", "Tiefpaß", "Levelling"], "range": ["#8c8c8c", "#0a0a8c", "#ff8800"]}, "legend": {"title": null, "labelExpr": "datum.label + '\u00a0\u00a0'"}},
     "strokeWidth": {"field": "s", "type": "ordinal", "scale": {"type": "ordinal", "domain": ["Rohdaten", "Tiefpaß", "Levelling"], "range": [1, 3.5, 3.5]}, "legend": {"title": null, "labelExpr": "datum.label + '\u00a0\u00a0'"}}
    },
    "layer": [
     {"transform": [{"filter": "datum.s === 'Rohdaten'"}], "mark": {"type": "line"}},
     {"transform": [{"filter": "datum.s === 'Rohdaten'"}], "mark": {"type": "point", "shape": "cross", "size": 8, "filled": true}, "encoding": {"color": {"value": "#777"}, "strokeWidth": {"value": 0}}},
     {"transform": [{"filter": "datum.s === 'Tiefpaß'"}], "mark": {"type": "line"}},
     {"transform": [{"filter": "datum.s === 'Levelling'"}], "mark": {"type": "line"}}
    ]
   }
  ]
 }
]
}
